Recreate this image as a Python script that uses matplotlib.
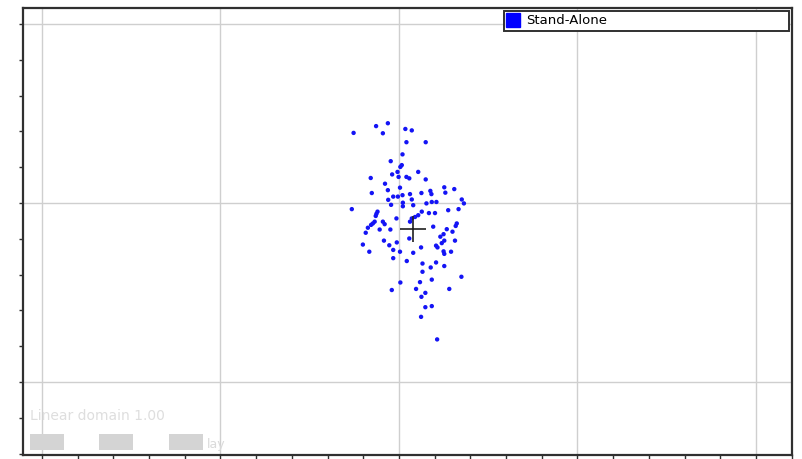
import matplotlib
matplotlib.use("Agg")
import matplotlib.pyplot as plt
from matplotlib.lines import Line2D
from matplotlib.patches import Rectangle

# Scatter of the stand-alone sample (arbitrary units, grid every 5)
series_name = "Stand-Alone"
x_vals = [
    -1.27, -0.64, -0.31, -0.45, 0.18, 0.36, 0.21, 0.75, 0.10, -0.23,
    0.08, 0.04, 0.54, -0.04, -0.19, -0.01, 0.21, 0.29, 0.75, -0.79,
    -0.39, 0.03, -0.31, -0.76, 1.27, 1.55, 0.31, 0.63, 0.88, 0.91,
    1.30, -0.16, -0.03, 0.10, -0.30, 0.11, -0.22, 0.11, -1.32, -0.60,
    -0.63, -0.65, -0.07, -0.68, -0.73, -0.78, -0.45, -0.40, -0.87, -0.54,
    -0.24, -0.93, -0.42, -1.01, -0.27, -0.06, -0.16, 0.03, -0.83, -0.16,
    0.22, 0.36, 0.40, 0.77, 0.92, 1.05, 1.76, 1.82, 0.64, 0.54,
    0.45, 0.36, 0.84, 1.01, 1.38, 1.67, 0.31, 0.96, 1.62, 1.59,
    1.34, 1.25, 1.16, 1.50, 0.29, 1.27, 1.20, 1.04, 1.08, 1.57,
    1.46, 1.25, 1.27, 0.40, 0.62, 0.66, 1.04, 0.89, 1.27, 0.66,
    1.75, 0.92, 0.59, 1.41, 0.48, 0.74, 0.63, 0.74, 0.92, 0.62,
    1.07, 0.04, -0.20,
]
y_vals = [
    1.96, 2.15, 2.23, 1.95, 2.07, 2.03, 1.70, 1.70, 1.36, 1.17,
    1.06, 1.01, 0.87, 0.87, 0.80, 0.73, 0.73, 0.69, 0.66, 0.70,
    0.54, 0.43, 0.36, 0.28, 0.44, 0.39, 0.25, 0.28, 0.34, 0.25,
    0.29, 0.18, 0.18, 0.22, 0.09, 0.01, -0.05, -0.09, -0.17, -0.24,
    -0.30, -0.36, -0.43, -0.52, -0.57, -0.61, -0.52, -0.59, -0.69, -0.74,
    -0.74, -0.83, -1.05, -1.16, -1.18, -1.10, -1.31, -1.36, -1.36, -1.54,
    -1.62, 0.10, -0.06, -0.01, 0.03, 0.03, 0.10, -0.01, -0.24, -0.34,
    -0.39, -0.43, -0.28, -0.28, -0.20, -0.17, -0.52, -0.66, -0.57, -0.64,
    -0.73, -0.87, -0.94, -0.80, -0.99, -1.05, -1.12, -1.19, -1.24, -1.05,
    -1.36, -1.35, -1.42, -1.39, -1.24, -1.69, -1.66, -1.80, -1.76, -1.92,
    -2.06, -2.14, -2.21, -2.40, -2.40, -2.51, -2.62, -2.91, -2.88, -3.18,
    -3.81, -2.22, -2.43,
]
center_x = 0.39
center_y = -0.73

fig = plt.figure(figsize=(8.02, 4.59), dpi=100)
fig.patch.set_facecolor("white")
ax = fig.add_axes([23 / 802, 1 - 455 / 459, 769 / 802, 447 / 459])

ax.set_xlim(-10.53, 11.01)
ax.set_ylim(-7.04, 5.45)

# Minor ticks on every unit, grid lines every 5 units
ax.set_xticks(range(-10, 12))
ax.set_yticks(range(-7, 6))
ax.set_xticklabels([])
ax.set_yticklabels([])
ax.tick_params(axis="both", direction="out", length=3, width=1, color="#303030")
ax.tick_params(top=False, right=False)
for v in (-10, -5, 0, 5, 10):
    ax.axvline(v, color="#cfcfcf", lw=1, zorder=0)
for v in (-5, 0, 5):
    ax.axhline(v, color="#cfcfcf", lw=1, zorder=0)

for sp in ax.spines.values():
    sp.set_color("#303030")
    sp.set_linewidth(1.6)

ax.scatter(x_vals, y_vals, s=10, color="#1414f5", edgecolors="none", zorder=3)
ax.plot([center_x], [center_y], marker="+", markersize=19, mew=1.2,
        color="#202020", linestyle="none", zorder=4)

handle = Line2D([], [], marker="s", color="#0000ff", linestyle="none", markersize=10)
leg = ax.legend([handle], [series_name], loc="upper left",
                bbox_to_anchor=(504 / 802, 1 - 31 / 459, 285 / 802, 20 / 459),
                bbox_transform=fig.transFigure, mode="expand", borderaxespad=0,
                borderpad=0.25, handlelength=0.9, handletextpad=0.5,
                fancybox=False, framealpha=1, edgecolor="#303030",
                prop={"size": 9.5})
leg.get_frame().set_linewidth(1.4)

# Faint overlay controls in the lower-left corner
fig.text(30 / 802, 1 - 420 / 459, "Linear domain 1.00", color="#dedede", fontsize=10)
for x0 in (30, 99, 169):
    fig.patches.append(Rectangle((x0 / 802, 1 - 450 / 459), 34 / 802, 16 / 459,
                                 transform=fig.transFigure, facecolor="#d4d4d4",
                                 edgecolor="none", zorder=5))
fig.text(207 / 802, 1 - 448 / 459, "lay", color="#dadada", fontsize=9)

fig.savefig("out.png", dpi=100)
